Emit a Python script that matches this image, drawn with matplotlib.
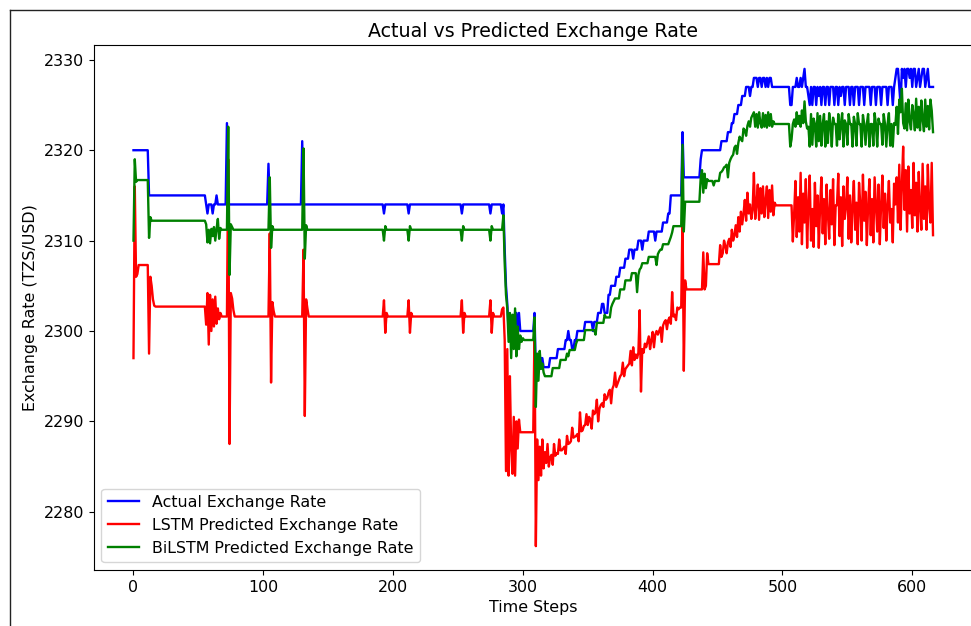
import numpy as np
import matplotlib
matplotlib.use("Agg")
import matplotlib.pyplot as plt
from matplotlib.lines import Line2D

plt.rcParams['font.size'] = 11.4
plt.rcParams['lines.linewidth'] = 1.7


def expand(segments):
    # (value, count) tuples are flat runs, bare numbers are single steps
    out = []
    for seg in segments:
        if isinstance(seg, tuple):
            out.extend([seg[0]] * seg[1])
        else:
            out.append(seg)
    return np.array(out, dtype=float)


actual_rate = [
    (2320, 12), (2315, 44),
    2314, 2313, (2314, 3), 2313, (2314, 2), 2315, (2314, 7), 2323,
    (2314, 31), 2318.5, (2314, 25), 2321,
    (2314, 62), 2313, (2314, 18), 2313, (2314, 40), 2313, (2314, 21), 2313, (2314, 8),
    2313, 2314, 2309, 2305, 2303,
    (2300, 5), (2302, 2), 2300, 2302, (2300, 11), 2302, 2295, 2297, (2296, 2), (2297, 2), (2296, 5),
    (2297, 6), (2298, 6), (2299, 2), 2300, (2299, 2), (2298, 2), (2299, 2), (2300, 6), (2301, 6), 2300,
    (2301, 3), (2302, 3), (2303, 2), (2302, 3), (2304, 2), (2305, 4), (2306, 3), (2307, 4), (2308, 3),
    (2309, 3), 2308, (2309, 3), (2310, 3), 2309, (2310, 4), (2311, 5), 2310, (2311, 5), (2312, 4),
    (2313, 2), (2315, 9), 2322, (2317, 13), 2319, (2320, 15), (2321, 5), (2322, 3), (2323, 2),
    (2324, 3), (2325, 3), (2326, 3), (2327, 3), 2326, (2327, 2), (2328, 3), 2327, (2328, 2), 2327,
    (2328, 2), 2327, 2328, 2327, (2328, 2), (2327, 14), (2325, 2), (2327, 3), 2328, (2327, 2), 2328,
    2327, 2328, 2329, (2327, 2),
    2326, 2325, 2327, 2325, 2327, 2327, 2325, 2327, 2326, 2327,
    2325, 2327, 2327, 2325, 2327, 2327, 2325, 2327, 2327, 2327,
    2325, 2327, 2327, 2325, 2327, 2326, 2327, 2327, 2325, 2327,
    2327, 2327, 2325, 2327, 2327, 2325, 2327, 2327, 2327, 2325,
    2327, 2327, 2327, 2325, 2327, 2327, 2327, 2327, 2325, 2327,
    2327, 2327, 2325, 2327, 2327, 2327, 2325, 2327, 2327, 2327,
    2327, 2325, 2327, 2327, 2327, 2325, 2327,
    2328, 2329, 2329, 2327, 2325, 2329, 2328, 2329, 2327, 2329,
    2329, 2328, 2329, 2327, 2329, 2329, 2327, 2328, 2329, 2327,
    2328, 2329, 2329, 2327, 2328, 2329, 2327, 2327, 2327, 2327,
]

lstm_pred = [
    2297.0, 2316.0, 2306.0, 2306.3, (2307.3, 8), 2297.5, 2306.0, 2305.0, 2303.5, 2302.8, (2302.7, 39),
    2300.7, 2304.2, 2298.5, 2304.0, 2300.0, 2303.5, 2300.5, 2303.8, 2300.8, 2302.5, 2301.3, 2302.0, (2301.6, 5),
    2319.0, 2287.5, 2304.2, 2303.6, 2302.3, (2301.6, 27),
    2310.8, 2294.3, 2303.2, 2302.2, (2301.6, 22),
    2309.0, 2290.6, 2303.5, 2302.5, (2301.6, 58),
    2303.4, 2299.8, 2302.0, (2301.6, 16),
    2303.4, 2299.8, 2302.0, (2301.6, 38),
    2303.4, 2299.8, 2302.0, (2301.6, 19),
    2303.4, 2299.8, 2302.0, (2301.6, 6),
    2302.4, 2302.6, 2299.0, 2284.5, 2298.0, 2284.0, 2295.0, 2287.0, 2284.2, 2290.5, 2284.0, 2290.0, 2287.0, 2290.2,
    (2288.8, 11),
    2300.5, 2276.2, 2288.0, 2283.5, 2287.2, 2284.0, 2288.0, 2284.8, 2286.6, 2285.4, 2287.5, 2285.0,
    2286.0, 2286.3, 2285.2, 2287.5, 2286.2, 2286.5, 2286.4, 2288.0, 2286.8, 2286.8,
    2287.0, 2287.2, 2286.4, 2288.4, 2287.5, 2287.6, 2287.8, 2289.3, 2288.2, 2288.3,
    2288.4, 2288.6, 2287.8, 2291.0, 2288.9, 2289.0, 2289.5, 2289.6, 2290.8, 2289.6,
    2290.5, 2290.2, 2289.2, 2291.2, 2290.8, 2291.0, 2292.4, 2290.0, 2291.4, 2291.8,
    2292.0, 2291.6, 2293.0, 2292.4, 2292.6, 2293.2, 2293.5, 2292.0, 2293.6, 2294.0,
    2295.4, 2293.8, 2294.2, 2294.6, 2295.0, 2295.2, 2296.5, 2295.0, 2295.8, 2296.0,
    2296.2, 2296.4, 2297.8, 2296.2, 2298.2, 2296.8, 2297.4, 2297.0, 2297.6, 2302.3,
    2293.3, 2298.0, 2297.6, 2298.6, 2298.2, 2298.8, 2299.4, 2298.0, 2299.0, 2299.9,
    2298.2, 2299.6, 2300.0, 2299.6, 2300.0, 2300.4, 2298.8, 2300.6, 2301.0, 2301.2,
    2300.2, 2301.2, 2301.5, 2300.8, 2304.3, 2301.6, 2301.8, 2301.2, 2302.6, 2302.4,
    2302.6, 2302.6,
    2313.0, 2295.6,
    2305.6, (2304.6, 13),
    2308.7, 2304.6, 2305.0, 2308.6,
    (2307.4, 9),
    2309.5, 2308.2, 2308.6, 2310.0, 2309.4, 2308.6, 2309.8, 2310.2, 2309.3, 2311.2,
    2310.0, 2310.6, 2311.7, 2310.4, 2312.6, 2311.0, 2313.2, 2311.8, 2313.0, 2314.5,
    2312.2, 2315.3, 2313.0, 2314.0, 2312.4, 2313.4,
    2317.5, 2312.4, 2314.0, 2316.2, 2312.3, 2315.8, 2313.0, 2316.0, 2312.6, 2314.4,
    2316.0, 2312.5, 2315.6, 2313.2, 2316.1, 2312.8, 2314.2, 2313.9,
    (2313.9, 12),
    2309.9,
    2313.0, 2316.6, 2310.4, 2314.8, 2311.0, 2317.5, 2309.6, 2315.2, 2312.0, 2316.8,
    2309.2, 2314.0, 2317.2, 2310.0, 2313.5, 2309.3, 2316.4, 2311.6, 2315.0, 2309.2,
    2313.8, 2317.0, 2310.8, 2314.6, 2309.6, 2316.2, 2313.0, 2310.2, 2315.6, 2311.8,
    2316.8, 2309.5, 2313.9, 2313.9, 2317.4, 2310.5, 2314.8, 2309.4, 2316.0, 2312.4,
    2313.9, 2317.0, 2310.2, 2315.0, 2309.8, 2313.9, 2316.6, 2311.2, 2314.2, 2309.6,
    2316.4, 2313.9, 2310.0, 2317.3, 2312.2, 2315.4, 2309.5, 2313.9, 2316.8, 2310.6,
    2314.6, 2309.8, 2317.0, 2313.9, 2311.0, 2316.2, 2309.6, 2314.0, 2317.2, 2311.4,
    2315.2, 2310.0, 2313.9, 2316.6, 2312.0, 2313.5, 2309.8, 2316.3,
    2314.0, 2317.0, 2312.0, 2318.4, 2311.2, 2316.2, 2320.4, 2313.4, 2317.8, 2311.0,
    2318.2, 2313.0, 2315.6, 2311.4, 2318.6, 2312.8, 2316.4, 2311.0, 2317.6, 2313.6,
    2311.2, 2318.5, 2312.4, 2316.0, 2311.2, 2318.4, 2313.8, 2312.0, 2318.6, 2310.6,
]

bilstm_pred = [
    2310.0, 2319.0, 2316.5, (2316.7, 9), 2310.3, 2312.6, (2312.2, 42),
    2311.8, 2309.8, 2311.2, 2309.7, 2311.3, 2310.5, 2311.5, 2310.0, 2311.3, 2312.4, 2310.2, 2311.4, (2311.2, 5),
    2322.6, 2306.2, 2311.8, 2311.5, (2311.2, 28),
    2317.0, 2309.2, 2311.6, (2311.2, 23),
    2320.2, 2308.0, 2311.7, (2311.2, 59),
    2310.0, 2311.6, (2311.2, 17),
    2310.0, 2311.6, (2311.2, 39),
    2310.0, 2311.6, (2311.2, 20),
    2310.0, 2311.6, (2311.2, 8),
    2312.8, 2307.5, 2304.0, 2302.5, 2298.8, 2302.0, 2297.0, 2301.8, 2298.0, 2302.5,
    2297.2, 2300.5, 2298.0, 2299.5, 2298.8, 2299.2,
    (2299.0, 8),
    2301.5, 2291.6, 2297.5, 2294.5, 2297.8, 2295.8, 2296.4, 2295.4,
    (2295.0, 6), (2295.9, 6), (2296.8, 5), 2297.5, 2297.2, (2297.9, 5), 2298.6, (2299.0, 6),
    (2300.1, 8), 2299.6, (2300.9, 6), 2301.8, (2301.5, 4), 2302.6, 2303.0, 2303.3, (2303.6, 4),
    (2304.6, 4), (2305.6, 5), (2306.4, 4), 2304.3, 2306.2, 2306.8, 2307.0, (2307.5, 5),
    (2308.2, 6), 2307.3, 2308.5, 2308.8, (2309.0, 2), (2309.6, 5), 2310.0, 2310.4, 2310.9, (2311.6, 7),
    2320.6, 2311.0,
    (2314.3, 12),
    2316.9, 2317.8, 2315.3, 2317.4, 2315.8, 2316.8,
    (2316.6, 4), 2316.1, (2316.6, 4),
    2317.5, 2317.6, 2317.8, 2318.1, 2318.2, 2318.4, 2317.0, 2318.6, 2319.0, 2319.3,
    2319.5, 2320.3, 2320.5, 2319.6, 2320.8, 2321.5, 2321.2, 2321.0, 2322.4, 2322.2,
    2321.6, 2322.7, 2323.2, 2322.6, 2323.6, 2323.9,
    2324.2, 2322.6, 2324.0, 2322.5, 2324.2, 2323.0, 2322.5, 2324.1, 2322.6, 2323.9,
    2322.5, 2324.2, 2322.7, 2324.0, 2322.6, 2323.2,
    (2322.9, 12),
    2320.4, 2321.2,
    2322.9, 2323.4, 2322.6, 2324.2, 2322.9, 2323.8, 2322.6, 2324.4, 2323.0, 2325.4, 2323.2, 2322.4,
    2322.6, 2320.4, 2324.0, 2320.6, 2323.5, 2322.9, 2320.4, 2324.1, 2321.0, 2323.8,
    2320.5, 2322.9, 2324.0, 2320.4, 2323.2, 2320.8, 2324.1, 2322.9, 2320.4, 2323.6,
    2322.9, 2322.9, 2320.5, 2324.0, 2321.2, 2322.9, 2324.1, 2320.4, 2323.3, 2322.9,
    2320.6, 2324.0, 2322.9, 2322.9, 2320.4, 2323.7, 2322.9, 2320.5, 2324.1, 2322.9,
    2322.9, 2320.4, 2323.9, 2322.9, 2320.6, 2322.9, 2324.0, 2320.4, 2322.9, 2322.9,
    2320.5, 2324.1, 2322.9, 2320.4, 2323.5, 2322.9, 2322.9, 2320.6, 2324.0, 2322.9,
    2320.4, 2322.9, 2324.1, 2320.5, 2322.9, 2320.4, 2323.0,
    2322.8, 2324.8, 2321.8, 2325.6, 2324.2, 2326.8, 2323.0, 2322.4, 2325.2, 2322.2,
    2325.6, 2323.2, 2322.3, 2325.0, 2324.0, 2322.2, 2325.7, 2322.5, 2324.8, 2322.2,
    2325.5, 2323.4, 2322.1, 2325.6, 2322.6, 2324.9, 2322.3, 2325.6, 2324.4, 2322.0,
]

actual = expand(actual_rate)
lstm = expand(lstm_pred)
bilstm = expand(bilstm_pred)

W, H = 971, 626
fig = plt.figure(figsize=(W / 100, H / 100), dpi=100)
ax = fig.add_axes([93.5 / W, (H - 570) / H, (973 - 93.5) / W, (570 - 45) / H])

ax.plot(np.arange(len(actual)), actual, color='blue', label='Actual Exchange Rate')
ax.plot(np.arange(len(lstm)), lstm, color='red', label='LSTM Predicted Exchange Rate')
ax.plot(np.arange(len(bilstm)), bilstm, color='green', label='BiLSTM Predicted Exchange Rate')

ax.set_title('Actual vs Predicted Exchange Rate')
ax.set_xlabel('Time Steps')
ax.set_ylabel('Exchange Rate (TZS/USD)')
ax.legend(loc='lower left')

# frame around the figure, open at the right and bottom edges
fx, fy = 9.5 / W, 1 - 9.5 / H
fig.add_artist(Line2D([fx, fx], [0, fy], transform=fig.transFigure, color='#222222', lw=1))
fig.add_artist(Line2D([fx, 1], [fy, fy], transform=fig.transFigure, color='#222222', lw=1))

fig.savefig('out.png', dpi=100)
